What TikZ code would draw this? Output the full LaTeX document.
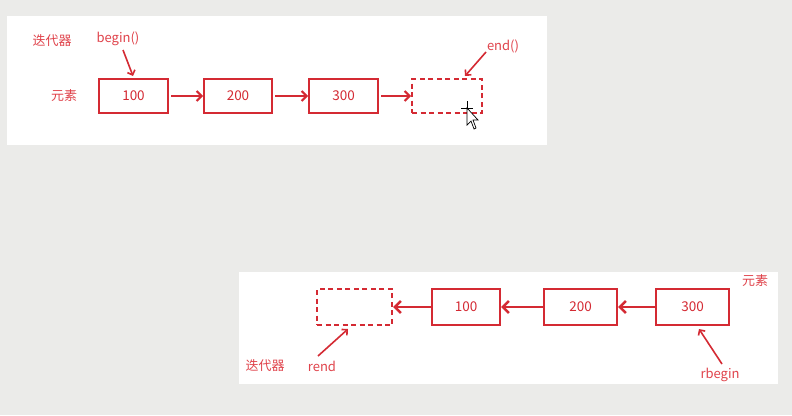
\documentclass[tikz,border=0pt]{standalone}
\usepackage{fontspec}
\setmainfont{Noto Sans CJK SC}
\usetikzlibrary{arrows.meta}
\definecolor{boxred}{HTML}{D42A33}
\definecolor{txtred}{HTML}{E0434B}
\definecolor{bgc}{HTML}{EBEBE9}
\begin{document}
\begin{tikzpicture}[x=1pt,y=-1pt,
  cell/.style={draw=boxred,line width=2pt,minimum height=34pt,inner sep=0pt,
    font=\fontsize{13.5}{15}\selectfont,text=boxred},
  ghost/.style={cell,dashed,dash pattern=on 5pt off 3.5pt},
  lbl/.style={font=\fontsize{13}{15}\selectfont,text=txtred,inner sep=0pt},
  link/.style={draw=boxred,line width=2pt,-{Straight Barb[length=5pt,width=10pt,line width=2pt]}},
  rlink/.style={draw=boxred,line width=2.4pt,-{Straight Barb[length=6pt,width=12pt,line width=2.6pt]}},
  ptr/.style={draw=boxred,line width=1.6pt,-{Straight Barb[length=4pt,width=8pt,line width=1.6pt]}}]
\fill[bgc] (0,0) rectangle (792,415);
\useasboundingbox (0,0) rectangle (792,415);
\fill[white] (7,16) rectangle (547,145);
\fill[white] (239,272) rectangle (778,384);
% top panel
\node[lbl] (it1) at (52,41) {迭代器};
\node[lbl] (el1) at (64,96) {元素};
\node[lbl] (beg) at (118,39) {begin()};
\node[lbl] (end) at (503,46) {end()};
\node[cell,minimum width=69pt] (t1) at (133.5,96) {100};
\node[cell,minimum width=68pt] (t2) at (238,96) {200};
\node[cell,minimum width=69pt] (t3) at (343.5,96) {300};
\node[ghost,minimum width=70pt] (t4) at (447,96) {};
\draw[link] (t1.east) ++(2,0) coordinate (s1) -- (t2.west);
\draw[link] (t2.east) ++(2,0) coordinate (s2) -- (t3.west);
\draw[link] (t3.east) ++(2,0) coordinate (s3) -- (t4.west);
\coordinate (bp0) at (123,50);
\coordinate (bp1) at (133,76);
\draw[ptr] (bp0) -- (bp1);
\coordinate (ep0) at (486,52);
\coordinate (ep1) at (465,76);
\draw[ptr] (ep0) -- (ep1);
% cursor
\draw[black,line width=0.7pt,fill=white] (467,108) -- (467,125) -- (471,121) -- (474,129) -- (476,128) -- (473,120) -- (478,120) -- cycle;
\draw[black,line width=0.8pt] (467,101) -- (467,108) (461,108) -- (473,108);
% bottom panel
\node[ghost,minimum width=75pt,minimum height=36pt] (r0) at (354.5,307) {};
\node[cell,minimum width=68pt,minimum height=36pt] (r1) at (466,307) {100};
\node[cell,minimum width=73pt,minimum height=36pt] (r2) at (580.5,307) {200};
\node[cell,minimum width=73pt,minimum height=36pt] (r3) at (692.5,307) {300};
\draw[rlink] (r1.west) -- (r0.east);
\draw[rlink] (r2.west) -- (r1.east);
\draw[rlink] (r3.west) -- (r2.east);
\node[lbl] (el2) at (755,281) {元素};
\node[lbl] (rb) at (720,375) {rbegin};
\node[lbl] (it2) at (265,366) {迭代器};
\node[lbl] (re) at (322,366) {rend};
\coordinate (rp0) at (722,364);
\coordinate (rp1) at (699,329);
\draw[ptr] (rp0) -- (rp1);
\coordinate (qp0) at (318,356);
\coordinate (qp1) at (348,329);
\draw[ptr] (qp0) -- (qp1);
\end{tikzpicture}
\end{document}
